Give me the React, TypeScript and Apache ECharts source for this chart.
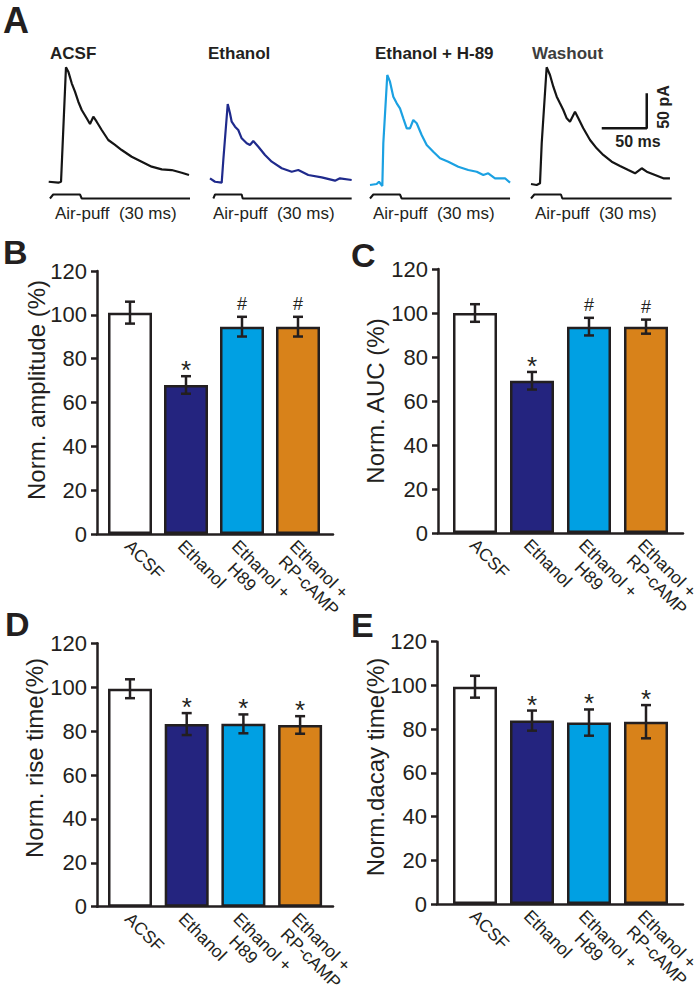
import React, { useEffect, useRef } from 'react';
import * as echarts from 'echarts';

const FONT = '"Liberation Sans", Arial, Helvetica, sans-serif';
const INK = '#231f20';

// ---------- Panel A: example traces (time in ms, current in pA) ----------
const TRACE_TITLES = ['ACSF', 'Ethanol', 'Ethanol + H-89', 'Washout'];
const TRACE_COLORS = ['#151515', '#1f2a8c', '#1ba1e2', '#151515'];
const TRACE_ACSF = [[0, 0.4], [10.7, -1], [13.7, 0.4], [19.2, 163.9], [21.8, 157.6], [25.6, 141], [29.2, 129], [32.9, 114.7], [36.7, 102.9], [42.2, 91], [45.9, 82.9], [49.6, 93.3], [53.3, 86.1], [58.9, 74.3], [66.2, 60], [73.7, 52.9], [81.1, 45.7], [92.2, 36.1], [103.3, 29], [114.4, 21.9], [125.6, 18.1], [136.7, 17.1], [147.8, 13.3], [155.9, 10]];
const TRACE_ETHANOL = [[0, 5.3], [5.6, 0.4], [13, -1], [14.8, 31.4], [19.7, 111.4], [22.2, 98.1], [24.1, 86.1], [27.8, 79], [31.4, 74.3], [35.2, 62.4], [40.8, 55.3], [44.4, 52.9], [48.1, 58.6], [53.7, 50.4], [61.1, 38.6], [68.6, 29], [79.7, 19.6], [90.8, 14.7], [98.1, 17.1], [109.2, 10], [124.1, 6.7], [138.9, 1.9], [144.4, 5.3], [157.4, 2.9]];
const TRACE_H89 = [[0, -4.3], [7.4, -2.9], [10, 0.4], [13.7, -5.7], [14.8, 55.3], [19.2, 152.9], [22.2, 143.3], [25.9, 121.9], [29.7, 112.4], [33.3, 105.3], [37, 91], [40.8, 76.7], [44.4, 76.7], [48.1, 88.6], [51.9, 83.9], [57.4, 67.1], [63, 52.9], [70.3, 43.3], [77.8, 33.9], [87, 29], [98.1, 21.9], [109.2, 17.1], [118.6, 14.7], [125.9, 10], [131.4, 12.4], [138.9, 5.3], [150, 5.3], [155.6, -1]];
const TRACE_WASHOUT = [[0, -2.9], [6.3, -4.3], [10, -1.9], [11.9, 55.3], [17.4, 163.9], [21.1, 152.9], [24.8, 136.1], [28.6, 121.9], [32.2, 112.4], [35.9, 102.9], [39.7, 91], [43.3, 86.1], [48.9, 100.4], [52.6, 91], [58.1, 76.7], [65.6, 60], [73, 48.1], [80.3, 38.6], [89.7, 29], [98.9, 22.9], [108.1, 17.1], [115.6, 12.4], [123, 19.6], [128.6, 14.7], [137.8, 10], [147, 5.3], [154.4, 5.3]];
const TRACES = [TRACE_ACSF, TRACE_ETHANOL, TRACE_H89, TRACE_WASHOUT];

// air-puff command (0 = off, 1 = on)
const PUFF_ACSF = [[1.4, 0], [5, 1], [34.8, 1], [36.7, 0], [157, 0]];
const PUFF_ETHANOL = [[3.7, 0], [5.6, 1], [35.2, 1], [36.3, 0], [157.4, 0]];
const PUFF_H89 = [[0, 0], [3.7, 1], [33.3, 1], [35.2, 0], [155.6, 0]];
const PUFF_WASHOUT = [[0, 0], [3.7, 1], [33.3, 1], [34.8, 0], [156.3, 0]];
const PUFFS = [PUFF_ACSF, PUFF_ETHANOL, PUFF_H89, PUFF_WASHOUT];
const PUFF_LABEL = 'Air-puff  (30 ms)';

// scale bar: 50 ms x 50 pA
const SCALE_MS = 50;
const SCALE_PA = 50;
const SCALE_ORIGIN = [78.6, 76.7];

// ---------- Panels B-E: bar charts ----------
const CATEGORIES = ['ACSF', 'Ethanol', 'Ethanol +\nH89', 'Ethanol +\nRP-cAMP'];
const BAR_COLORS = ['#ffffff', '#24247f', '#00a0e3', '#d8821a'];
const Y_TICKS = [0, 20, 40, 60, 80, 100, 120];

const AMP_MEAN = [101, 68, 94.6, 94.6];
const AMP_ERR = [5, 4, 4.5, 4.5];
const AMP_MARK = ['', '*', '#', '#'];

const AUC_MEAN = [100, 69.2, 93.8, 93.8];
const AUC_ERR = [4, 4, 4, 3.2];
const AUC_MARK = ['', '*', '#', '#'];

const RISE_MEAN = [99.3, 83.2, 83.3, 82.8];
const RISE_ERR = [4.3, 5, 4.3, 4];
const RISE_MARK = ['', '*', '*', '*'];

const DECAY_MEAN = [99.4, 83.9, 83, 83.4];
const DECAY_ERR = [5, 4.6, 6, 7.6];
const DECAY_MARK = ['', '*', '*', '*'];

// layout (pixels)
const TRACE_LEFTS = [48.7, 210, 370, 531];
const TRACE_TITLE_X = [50, 208, 375, 532];
const PUFF_LABEL_X = [55, 213, 373, 535];
const LABEL_DX = [-2, -5, -7, -5];
const LINE2_INDENT = [0, 0, 13, 3];

const PANELS = [
  { letter: 'B', lx: 3, ly: 252, mean: AMP_MEAN, err: AMP_ERR, mark: AMP_MARK, name: 'Norm. amplitude (%)', axisX: 97, axisEnd: 333, top: 271, bottom: 534, first: 130, step: 56, nameX: 36, nameY: 390 },
  { letter: 'C', lx: 351, ly: 255, mean: AUC_MEAN, err: AUC_ERR, mark: AUC_MARK, name: 'Norm. AUC (%)', axisX: 438, axisEnd: 683, top: 269, bottom: 533, first: 475, step: 57, nameX: 375, nameY: 401 },
  { letter: 'D', lx: 5, ly: 624, mean: RISE_MEAN, err: RISE_ERR, mark: RISE_MARK, name: 'Norm. rise time(%)', axisX: 97, axisEnd: 333, top: 643.3, bottom: 906.7, first: 130, step: 56.7, nameX: 34, nameY: 758 },
  { letter: 'E', lx: 351, ly: 625, mean: DECAY_MEAN, err: DECAY_ERR, mark: DECAY_MARK, name: 'Norm.dacay time(%)', axisX: 437, axisEnd: 683, top: 641.7, bottom: 904, first: 475, step: 57, nameX: 375, nameY: 767 },
];

function categoryLabelText(j: number) {
  const lines = CATEGORIES[j].split('\n');
  if (lines.length === 1) return `{a|${lines[0]}}`;
  // blank leading line keeps the first line centred on the anchor
  return `{a| }\n{a|${lines[0]}}\n{b|${lines[1]}}`;
}

function buildOption() {
  const grid: any[] = [];
  const xAxis: any[] = [];
  const yAxis: any[] = [];
  const series: any[] = [];
  const graphic: any[] = [];

  // traces
  TRACES.forEach((tr, i) => {
    grid.push({ left: TRACE_LEFTS[i], top: 59.5, width: 144, height: 140 });
    xAxis.push({ type: 'value', gridIndex: i, min: 0, max: 160, show: false });
    yAxis.push({ type: 'value', gridIndex: i, min: -25, max: 175, show: false });
    yAxis.push({ type: 'value', gridIndex: i, min: -0.25, max: 34.75, show: false });
    series.push({
      type: 'line', xAxisIndex: i, yAxisIndex: 2 * i, data: tr, showSymbol: false, symbol: 'none',
      lineStyle: { color: TRACE_COLORS[i], width: 2.2 }, silent: true,
    });
    series.push({
      type: 'line', xAxisIndex: i, yAxisIndex: 2 * i + 1, data: PUFFS[i], showSymbol: false, symbol: 'none',
      lineStyle: { color: '#151515', width: 2 }, silent: true,
    });
    graphic.push({
      type: 'text', x: TRACE_TITLE_X[i], y: 53,
      style: { text: TRACE_TITLES[i], fontSize: 17, fontWeight: 'bold', fontFamily: FONT, fill: i === 3 ? '#3d3d3d' : INK, align: 'left', verticalAlign: 'middle' },
    });
    graphic.push({
      type: 'text', x: PUFF_LABEL_X[i], y: 213,
      style: { text: PUFF_LABEL, fontSize: 17, fontFamily: FONT, fill: INK, align: 'left', verticalAlign: 'middle' },
    });
  });
  // scale bar in washout grid
  series.push({
    type: 'line', xAxisIndex: 3, yAxisIndex: 6,
    data: [
      [SCALE_ORIGIN[0], SCALE_ORIGIN[1]],
      [SCALE_ORIGIN[0] + SCALE_MS, SCALE_ORIGIN[1]],
      [SCALE_ORIGIN[0] + SCALE_MS, SCALE_ORIGIN[1] + SCALE_PA],
    ],
    showSymbol: false, symbol: 'none', lineStyle: { color: '#151515', width: 2.5 }, silent: true,
  });
  graphic.push({ type: 'text', x: 638, y: 141, style: { text: `${SCALE_MS} ms`, fontSize: 16, fontWeight: 'bold', fontFamily: FONT, fill: INK, align: 'center', verticalAlign: 'middle' } });
  graphic.push({ type: 'text', x: 663, y: 107, rotation: Math.PI / 2, style: { text: `${SCALE_PA} pA`, fontSize: 16, fontWeight: 'bold', fontFamily: FONT, fill: INK, align: 'center', verticalAlign: 'middle' } });
  graphic.push({ type: 'text', x: 3, y: 20, style: { text: 'A', fontSize: 36, fontWeight: 'bold', fontFamily: FONT, fill: INK, align: 'left', verticalAlign: 'middle' } });

  // bar panels
  PANELS.forEach((p, k) => {
    const gi = 4 + k;
    const yi = 8 + k;
    grid.push({ left: p.axisX, top: p.top, width: p.axisEnd - p.axisX, height: p.bottom - p.top });
    xAxis.push({
      type: 'value', gridIndex: gi,
      min: -(p.first - p.axisX) / p.step, max: (p.axisEnd - p.first) / p.step,
      axisLine: { show: true, onZero: false, lineStyle: { color: INK, width: 2.5 } },
      axisTick: { show: false }, splitLine: { show: false }, axisLabel: { show: false },
    });
    yAxis.push({
      type: 'value', gridIndex: gi, min: Y_TICKS[0], max: Y_TICKS[Y_TICKS.length - 1], interval: Y_TICKS[1] - Y_TICKS[0],
      axisLine: { show: true, onZero: false, lineStyle: { color: INK, width: 2.5 } },
      axisTick: { show: true, length: 6, lineStyle: { color: INK, width: 2.5 } },
      axisLabel: { fontSize: 22, fontFamily: FONT, color: INK, margin: 10 },
      splitLine: { show: false },
    });
    series.push({
      type: 'bar', xAxisIndex: gi, yAxisIndex: yi, barWidth: 44,
      data: p.mean.map((m, j) => ({ value: [j, m], itemStyle: { color: BAR_COLORS[j] } })),
      itemStyle: { borderColor: INK, borderWidth: 2.5 }, silent: true,
    });
    series.push({
      type: 'custom', xAxisIndex: gi, yAxisIndex: yi, z: 10, clip: false, silent: true,
      data: p.mean.map((m, j) => [j, m, p.err[j]]),
      encode: { x: 0, y: 1 },
      renderItem: (params: any, api: any) => {
        const x = api.value(0);
        const m = api.value(1);
        const e = api.value(2);
        const top = api.coord([x, m + e]);
        const bot = api.coord([x, m - e]);
        const cap = 5;
        const style = { stroke: INK, lineWidth: 2.5 };
        const children: any[] = [
          { type: 'line', shape: { x1: top[0], y1: top[1], x2: bot[0], y2: bot[1] }, style },
          { type: 'line', shape: { x1: top[0] - cap, y1: top[1], x2: top[0] + cap, y2: top[1] }, style },
          { type: 'line', shape: { x1: bot[0] - cap, y1: bot[1], x2: bot[0] + cap, y2: bot[1] }, style },
        ];
        const mk = p.mark[params.dataIndex];
        if (mk) {
          children.push({
            type: 'text', x: top[0], y: top[1] - (mk === '*' ? 6 : 13),
            style: { text: mk, fontSize: mk === '*' ? 26 : 18, fontFamily: FONT, fill: INK, align: 'center', verticalAlign: 'middle' },
          });
        }
        return { type: 'group', children };
      },
    });
    // rotated category labels under each bar
    CATEGORIES.forEach((_, j) => {
      graphic.push({
        type: 'text',
        x: p.first + j * p.step + LABEL_DX[j],
        y: p.bottom + 9,
        rotation: -Math.PI / 4,
        style: {
          text: categoryLabelText(j),
          fill: INK, fontFamily: FONT, fontSize: 17.5, align: 'left', verticalAlign: 'middle',
          rich: {
            a: { fontSize: 17.5, fontFamily: FONT, lineHeight: 19 },
            b: { fontSize: 17.5, fontFamily: FONT, lineHeight: 19, padding: [0, 0, 0, LINE2_INDENT[j]] },
          },
        },
      });
    });
    graphic.push({ type: 'text', x: p.nameX, y: p.nameY, rotation: Math.PI / 2, style: { text: p.name, fontSize: 24, fontFamily: FONT, fill: INK, align: 'center', verticalAlign: 'middle' } });
    graphic.push({ type: 'text', x: p.lx, y: p.ly, style: { text: p.letter, fontSize: 34, fontWeight: 'bold', fontFamily: FONT, fill: INK, align: 'left', verticalAlign: 'middle' } });
  });

  return { animation: false, backgroundColor: '#ffffff', grid, xAxis, yAxis, series, graphic };
}

export default function App() {
  const ref = useRef<HTMLDivElement>(null);
  useEffect(() => {
    document.body.style.margin = '0';
    if (!ref.current) return;
    const chart = echarts.init(ref.current, undefined, { renderer: 'svg' });
    chart.setOption(buildOption() as any);
    return () => chart.dispose();
  }, []);
  return <div ref={ref} style={{ width: 700, height: 993 }} />;
}
